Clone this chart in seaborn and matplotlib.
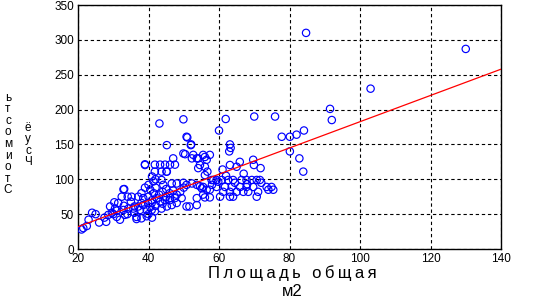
import matplotlib
matplotlib.use("Agg")
import matplotlib.pyplot as plt
import seaborn as sns
import numpy as np
import pandas as pd

# ---- data ----
area = [
    21, 21.5, 22.5, 23, 24, 25, 26, 28, 27.5,
    29.1, 29.6, 28.6, 30.5, 31, 31.4, 33.1, 32.4, 34.1, 32.9, 33.3, 31.9, 36.6, 36, 37.1, 35.2,
    38, 37.6, 38.5, 30.3, 32.9, 35.7, 34.3, 37.1, 38.5, 38, 36.6, 39.5, 30, 31, 33, 35, 36, 34,
    43.1, 49.9, 45.2, 50.8, 52, 47, 39, 41.8, 43.3, 44.7, 46.1, 47.5, 41.8, 43.7, 45.1, 49.9,
    52.3, 54.1, 56, 54.1, 56.7, 41.4, 43.7, 44.2, 46.6, 48, 49.9, 52.3, 54.6, 55.1, 56, 57.4,
    51.6, 49.4, 47.5, 46.1, 44.7, 43.3, 42.3, 40.9, 39.9, 45.2, 46.6, 43.7, 41.8, 40.9, 39.5,
    50.8, 53.7, 53.7, 56.5, 55.5,
    40.5, 41, 40, 41.5, 40.5, 42, 40, 41, 42, 43, 44, 45, 46, 47, 48, 49, 50, 44, 45, 46, 48,
    42, 41, 40, 39, 38,
    57.4, 55.5, 52.7, 53.7, 50.4, 56.5, 54.6, 56, 39, 45.2, 50.8, 53.7, 55.5, 56, 58.4, 59.8,
    51, 52.1,
    61.9, 70, 75.9, 60, 63.1, 63.3, 62.9, 77.8, 80.1, 82, 84.1, 80.1, 82.8, 83.9, 61, 63.1,
    65.9, 69.7, 69.9, 71.8, 65, 57.9, 59.3, 60.8, 62.6, 64, 66.4, 67.8, 69.3, 70.7, 71.6,
    59.3, 61.7, 63.6, 66, 67.8, 69.7, 73.5, 74.9, 61.2, 63.1, 65, 66.9, 68.3, 71.1,
    60.3, 63.1, 64, 70.7, 57.4, 74, 75.4, 64.5, 68, 72, 58, 62, 67,
    84.7, 130, 103, 91.5, 92,
]
price = [
    28, 30, 33, 42, 52, 50, 38, 39, 45,
    61, 52, 49, 58, 46, 66, 86, 75, 75, 56, 49, 42, 43, 61, 75, 75,
    66, 56, 73, 67, 85.6, 58, 58, 61, 63, 44, 46, 47, 50, 55, 62, 68, 52, 50,
    180, 186, 149, 161, 149, 130, 121.5, 121, 121, 121, 121, 121, 111, 111, 111, 137,
    130, 130, 132, 116, 111, 97, 99, 92, 94, 94, 95, 94, 90, 87, 74, 74,
    61, 73, 73, 73, 70, 68, 73, 66, 66, 61, 63, 58, 54, 56, 56,
    61, 73, 63, 85, 78,
    60, 70, 75, 80, 85, 88, 50, 45, 62, 78, 82, 86, 80, 84, 78, 82, 88, 65, 75, 70, 66,
    100, 104, 92, 88, 80,
    135, 135, 135, 130, 136, 128, 120.5, 118, 120.5, 111, 92, 92, 89, 106, 99, 96.5,
    160, 150,
    186.5, 190, 190, 170, 150, 145, 140, 161, 161, 164, 170, 140, 130, 111, 114, 120.5,
    125, 128, 120.5, 116, 118, 99, 99, 99, 99, 99, 99, 99, 99, 99, 99,
    89, 89, 89, 89, 89, 89, 89, 89, 82, 82, 82, 82, 82, 82,
    75, 75, 75, 75, 85, 85, 85, 95, 93, 95, 92, 105, 108,
    310, 287, 230, 201, 185,
]
fit_intercept = -5.7
fit_slope = 1.883
x_ticks = [20, 40, 60, 80, 100, 120, 140]
y_ticks = [0, 50, 100, 150, 200, 250, 300, 350]
x_label_line1 = "Площадь общая"
x_label_line2 = "м2"
y_label_col1 = ["ь", "т", "с", "о", "м", "и", "о", "т", "С"]
y_label_col2 = ["ё", "у", "с", "Ч"]

df = pd.DataFrame({"area": area, "price": price})
fit_df = pd.DataFrame({"x": [x_ticks[0], x_ticks[-1]]})
fit_df["y"] = fit_intercept + fit_slope * fit_df["x"]

sns.set_theme(style="white")
plt.rcParams["font.family"] = ["Liberation Sans", "DejaVu Sans"]

fig = plt.figure(figsize=(5.53, 3.0), dpi=100)
ax = fig.add_axes([78 / 553, 51 / 300, (501 - 78) / 553, (249 - 5) / 300])

sns.scatterplot(data=df, x="area", y="price", ax=ax, marker="o", s=28,
                facecolors="none", edgecolor="#0000ff", linewidth=0.85, zorder=3)
sns.lineplot(data=fit_df, x="x", y="y", ax=ax, color="#ff0000", linewidth=0.9, zorder=4)

ax.set_xlim(20, 140)
ax.set_ylim(0, 350)
ax.set_xticks(x_ticks)
ax.set_yticks(y_ticks)
ax.tick_params(length=0, pad=3, labelsize=8.5, colors="black")
ax.grid(True, color="black", linestyle=(0, (3, 2.5)), linewidth=0.8)
for s in ax.spines.values():
    s.set_color("black")
    s.set_linewidth(1.0)
ax.set_xlabel("")
ax.set_ylabel("")

spaced = "\u2009".join(x_label_line1)
fig.text(292 / 553, 1 - 273 / 300, spaced, ha="center", va="center",
         fontsize=12, color="black")
fig.text(292 / 553, 1 - 291 / 300, x_label_line2, ha="center", va="center",
         fontsize=12, color="black")

fig.text(8 / 553, 1 - 144 / 300, "\n".join(y_label_col1), ha="center", va="center",
         fontsize=8.5, color="black", linespacing=0.95, multialignment="center")
fig.text(28 / 553, 1 - 145 / 300, "\n".join(y_label_col2), ha="center", va="center",
         fontsize=8.5, color="black", linespacing=0.95, multialignment="center")

fig.savefig("out.png", dpi=100, facecolor="white")
